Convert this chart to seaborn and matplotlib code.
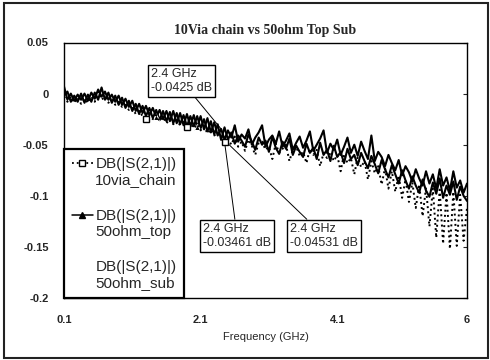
import numpy as np
import pandas as pd
import matplotlib
matplotlib.use("Agg")
import matplotlib.pyplot as plt
import seaborn as sns
from matplotlib.legend_handler import HandlerLine2D
from matplotlib.lines import Line2D
from matplotlib.patches import Rectangle

# ---------------- data ----------------
freq = [0.10, 0.15, 0.20, 0.25, 0.30, 0.35, 0.40, 0.45, 0.50, 0.55,
        0.60, 0.65, 0.70, 0.75, 0.80, 0.85, 0.90, 0.95, 1.00, 1.05,
        1.10, 1.15, 1.20, 1.25, 1.30, 1.35, 1.40, 1.45, 1.50, 1.55,
        1.60, 1.65, 1.70, 1.75, 1.80, 1.85, 1.90, 1.95, 2.00, 2.05,
        2.10, 2.15, 2.20, 2.25, 2.30, 2.35, 2.40, 2.45, 2.50, 2.55,
        2.60, 2.65, 2.70, 2.75, 2.80, 2.85, 2.90, 2.95, 3.00, 3.05,
        3.10, 3.15, 3.20, 3.25, 3.30, 3.35, 3.40, 3.45, 3.50, 3.55,
        3.60, 3.65, 3.70, 3.75, 3.80, 3.85, 3.90, 3.95, 4.00, 4.05,
        4.10, 4.15, 4.20, 4.25, 4.30, 4.35, 4.40, 4.45, 4.50, 4.55,
        4.60, 4.65, 4.70, 4.75, 4.80, 4.85, 4.90, 4.95, 5.00, 5.05,
        5.10, 5.15, 5.20, 5.25, 5.30, 5.35, 5.40, 5.45, 5.50, 5.55,
        5.60, 5.65, 5.70, 5.75, 5.80, 5.85, 5.90, 5.95, 6.00]

via_chain = [-0.003, -0.008, -0.003, -0.009, -0.004, -0.010, -0.005, -0.009, -0.003, -0.008,
             0.002, -0.006, -0.003, -0.009, -0.006, -0.011, -0.008, -0.013, -0.011, -0.016,
             -0.014, -0.020, -0.017, -0.022, -0.025, -0.022, -0.025, -0.021, -0.027, -0.023,
             -0.029, -0.025, -0.030, -0.026, -0.031, -0.028, -0.033, -0.029, -0.034, -0.030,
             -0.036, -0.032, -0.039, -0.035, -0.041, -0.038, -0.0425, -0.047, -0.044, -0.050,
             -0.042, -0.052, -0.047, -0.056, -0.045, -0.051, -0.060, -0.048, -0.047, -0.055,
             -0.052, -0.064, -0.049, -0.058, -0.054, -0.050, -0.066, -0.055, -0.052, -0.061,
             -0.057, -0.068, -0.054, -0.060, -0.055, -0.071, -0.058, -0.063, -0.057, -0.066,
             -0.060, -0.076, -0.059, -0.068, -0.063, -0.079, -0.062, -0.072, -0.066, -0.084,
             -0.066, -0.078, -0.071, -0.089, -0.073, -0.093, -0.076, -0.096, -0.080, -0.102,
             -0.084, -0.106, -0.087, -0.112, -0.089, -0.120, -0.092, -0.130, -0.093, -0.141,
             -0.094, -0.147, -0.097, -0.152, -0.096, -0.149, -0.099, -0.144, -0.112]

ohm50_top = [0.007, -0.006, 0.000, -0.007, -0.001, -0.006, 0.000, -0.007, 0.001, -0.005,
             0.004, -0.003, 0.002, -0.006, -0.001, -0.008, -0.002, -0.011, -0.005, -0.013,
             -0.007, -0.017, -0.010, -0.019, -0.012, -0.021, -0.014, -0.023, -0.016, -0.025,
             -0.017, -0.027, -0.017, -0.029, -0.019, -0.031, -0.020, -0.032, -0.021, -0.033,
             -0.022, -0.035, -0.024, -0.038, -0.028, -0.041, -0.03461, -0.045, -0.036, -0.043,
             -0.031, -0.047, -0.040, -0.044, -0.035, -0.050, -0.043, -0.038, -0.031, -0.052,
             -0.045, -0.041, -0.049, -0.037, -0.052, -0.046, -0.039, -0.055, -0.048, -0.042,
             -0.053, -0.046, -0.037, -0.056, -0.050, -0.044, -0.036, -0.058, -0.049, -0.055,
             -0.045, -0.060, -0.052, -0.043, -0.058, -0.050, -0.061, -0.047, -0.056, -0.064,
             -0.041, -0.066, -0.057, -0.062, -0.071, -0.060, -0.068, -0.075, -0.065, -0.080,
             -0.071, -0.077, -0.086, -0.074, -0.083, -0.090, -0.076, -0.088, -0.079, -0.093,
             -0.074, -0.090, -0.082, -0.095, -0.076, -0.092, -0.085, -0.097, -0.088]

ohm50_sub = [-0.002, 0.002, -0.008, -0.002, -0.008, 0.000, -0.009, -0.001, -0.008, 0.001,
             -0.006, 0.006, -0.006, 0.001, -0.009, -0.002, -0.011, -0.004, -0.014, -0.007,
             -0.017, -0.010, -0.020, -0.012, -0.022, -0.014, -0.024, -0.016, -0.026, -0.017,
             -0.027, -0.018, -0.029, -0.019, -0.030, -0.021, -0.032, -0.022, -0.032, -0.022,
             -0.034, -0.025, -0.037, -0.027, -0.040, -0.030, -0.04531, -0.033, -0.045, -0.038,
             -0.049, -0.041, -0.046, -0.052, -0.040, -0.047, -0.055, -0.043, -0.050, -0.046,
             -0.057, -0.042, -0.053, -0.059, -0.047, -0.054, -0.044, -0.060, -0.051, -0.057,
             -0.062, -0.049, -0.058, -0.053, -0.064, -0.048, -0.060, -0.055, -0.066, -0.051,
             -0.062, -0.057, -0.068, -0.054, -0.064, -0.060, -0.070, -0.058, -0.066, -0.073,
             -0.061, -0.069, -0.078, -0.065, -0.074, -0.082, -0.070, -0.079, -0.088, -0.075,
             -0.085, -0.093, -0.081, -0.090, -0.097, -0.084, -0.095, -0.101, -0.087, -0.098,
             -0.083, -0.102, -0.090, -0.099, -0.086, -0.104, -0.091, -0.100, -0.105]

series_labels = ["DB(|S(2,1)|)\n10via_chain",
                 "DB(|S(2,1)|)\n50ohm_top",
                 "DB(|S(2,1)|)\n50ohm_sub"]
x_ticks = [0.1, 2.1, 4.1, 6]
x_tick_labels = ["0.1", "2.1", "4.1", "6"]
y_ticks = [0.05, 0, -0.05, -0.1, -0.15, -0.2]
y_tick_labels = ["0.05", "0", "-0.05", "-0.1", "-0.15", "-0.2"]
marker_texts = ["2.4 GHz\n-0.0425 dB", "2.4 GHz\n-0.03461 dB", "2.4 GHz\n-0.04531 dB"]
title = "10Via chain vs 50ohm Top Sub"
x_label = "Frequency (GHz)"

df = pd.DataFrame({"freq": freq, "via": via_chain, "top": ohm50_top, "sub": ohm50_sub})

# ---------------- style ----------------
sns.set_style("white")
plt.rcParams["font.family"] = ["Liberation Sans", "DejaVu Sans"]

W, H = 490, 360
fig = plt.figure(figsize=(W / 100, H / 100), dpi=100)
ax_l, ax_r, ax_t, ax_b = 64, 467, 42.5, 298
ax = fig.add_axes([ax_l / W, (H - ax_b) / H, (ax_r - ax_l) / W, (ax_b - ax_t) / H])

sns.lineplot(data=df, x="freq", y="sub", ax=ax, color="black", lw=1.5, zorder=3)
sns.lineplot(data=df, x="freq", y="top", ax=ax, color="black", lw=1.5, zorder=3,
             marker="^", markersize=4, markevery=[27, 39])
sns.lineplot(data=df, x="freq", y="via", ax=ax, color="black", lw=1.4, ls=":", zorder=3,
             marker="s", markersize=5, mfc="white", mec="black", mew=1.0,
             markevery=[24, 36, 47])

ax.set_xlim(0.1, 6)
ax.set_ylim(-0.2, 0.05)
ax.set_xticks(x_ticks, labels=x_tick_labels)
ax.set_yticks(y_ticks, labels=y_tick_labels)
ax.tick_params(axis="x", length=0, pad=12, labelsize=8)
ax.tick_params(axis="y", left=False, right=True, direction="in", length=3, pad=11, labelsize=8)
for lab in ax.get_xticklabels() + ax.get_yticklabels():
    lab.set_fontweight("bold")
ax.set_xlabel(x_label, fontsize=8, labelpad=5)
ax.set_ylabel("")
ax.set_title(title, fontfamily="Liberation Serif", fontweight="bold", fontsize=10, pad=6)
for s in ax.spines.values():
    s.set_color("black")
    s.set_linewidth(1.0)


class FirstLineHandler(HandlerLine2D):
    def __init__(self, shift, **kw):
        super().__init__(**kw)
        self.shift = shift

    def create_artists(self, legend, orig_handle, xdescent, ydescent, width, height,
                       fontsize, trans):
        arts = super().create_artists(legend, orig_handle, xdescent, ydescent, width,
                                      height, fontsize, trans)
        for a in arts:
            a.set_ydata(np.asarray(a.get_ydata(), dtype=float) + self.shift * fontsize)
        return arts


h1 = Line2D([], [], color="black", ls=":", lw=1.3, marker="s", mfc="white", mec="black", ms=5)
h2 = Line2D([], [], color="black", lw=1.1, marker="^", ms=5)
h3 = Line2D([], [], ls="none")
leg = ax.legend(handles=[h1, h2, h3], labels=series_labels, loc="lower left",
                bbox_to_anchor=(0, 0), borderaxespad=0, fontsize=11, handlelength=1.4,
                handletextpad=0.15, labelspacing=1.4, borderpad=0.5, fancybox=False,
                edgecolor="black", framealpha=1,
                handler_map={h1: FirstLineHandler(0.6), h2: FirstLineHandler(0.6)})
leg.get_frame().set_linewidth(1.6)

box = dict(boxstyle="square,pad=0.25", fc="white", ec="black", lw=1.0)
arrow = dict(arrowstyle="-", color="black", lw=0.7, shrinkA=0, shrinkB=0)
ax.annotate(marker_texts[0], xy=(2.4, -0.0346), xytext=(1.374, 0.025), textcoords="data",
            ha="left", va="top", fontsize=9, bbox=box, arrowprops=arrow, zorder=2)
ax.annotate(marker_texts[1], xy=(2.45, -0.047), xytext=(2.135, -0.1265), textcoords="data",
            ha="left", va="top", fontsize=9, bbox=box, arrowprops=arrow, zorder=2)
ax.annotate(marker_texts[2], xy=(2.47, -0.047), xytext=(3.409, -0.1265), textcoords="data",
            ha="left", va="top", fontsize=9, bbox=box, arrowprops=arrow, zorder=2)

fig.add_artist(Rectangle((4 / W, 2 / H), 484 / W, 355 / H, transform=fig.transFigure,
                         fill=False, ec="#222222", lw=1.5))

fig.savefig("out.png", dpi=100)
